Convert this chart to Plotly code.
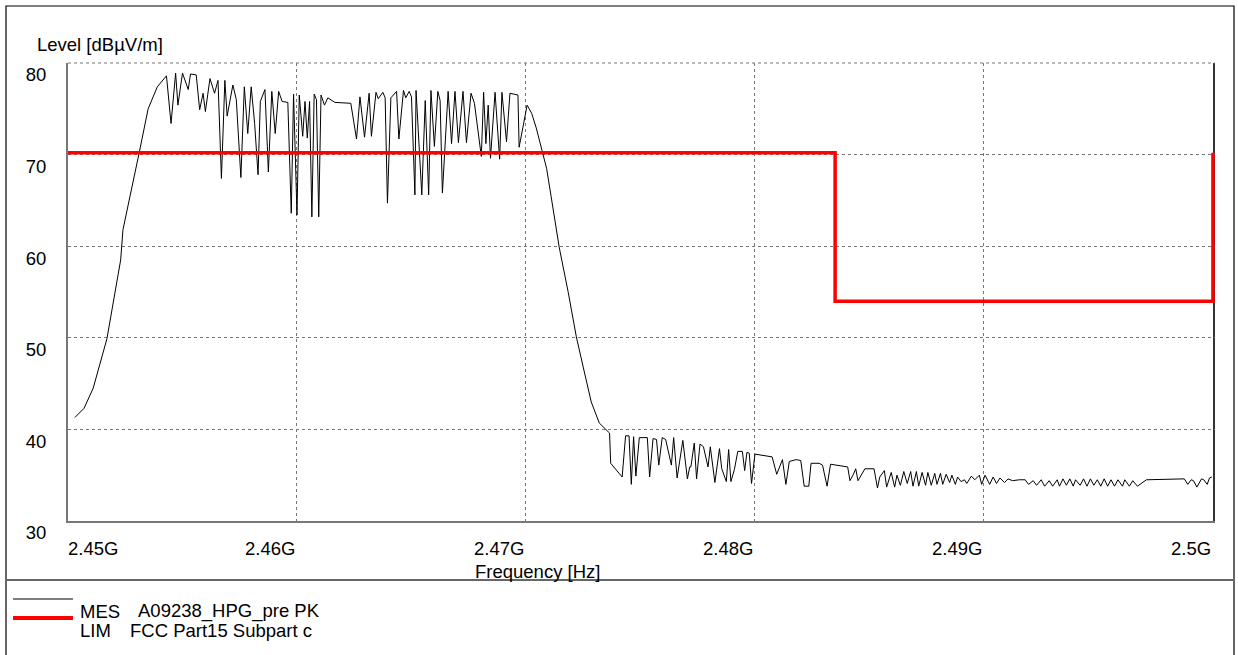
import plotly.graph_objects as go

# ---------------- data ----------------
freq_mhz = [
    2450.3, 2450.7, 2451.1, 2451.5, 2451.7, 2452.3, 2452.4, 2453.1, 2453.5, 2453.9,
    2454.3, 2454.5, 2454.7, 2454.8, 2455.0, 2455.25, 2455.35, 2455.6, 2455.75, 2455.9,
    2456.0, 2456.2, 2456.4, 2456.55, 2456.7, 2456.85, 2456.95, 2457.2, 2457.35, 2457.55,
    2457.7, 2457.85, 2458.0, 2458.15, 2458.3, 2458.4, 2458.6, 2458.75, 2458.9, 2459.05,
    2459.2, 2459.35, 2459.6, 2459.75, 2459.85, 2460.0, 2460.1, 2460.25, 2460.35, 2460.45,
    2460.55, 2460.65, 2460.75, 2460.85, 2460.95, 2461.05, 2461.2, 2461.35, 2461.65, 2462.35,
    2462.6, 2462.75, 2462.95, 2463.15, 2463.25, 2463.45, 2463.55, 2463.75, 2463.85, 2463.95,
    2464.1, 2464.35, 2464.45, 2464.65, 2464.75, 2464.9, 2465.0, 2465.15, 2465.2, 2465.45,
    2465.6, 2465.75, 2465.85, 2466.0, 2466.15, 2466.25, 2466.35, 2466.6, 2466.75, 2466.9,
    2467.05, 2467.25, 2467.4, 2467.6, 2467.75, 2468.05, 2468.15, 2468.25, 2468.35, 2468.45,
    2468.65, 2468.85, 2468.95, 2469.15, 2469.3, 2469.65, 2469.7, 2470.05, 2470.25, 2470.45,
    2470.75, 2470.9, 2471.1, 2471.45, 2471.85, 2472.2, 2472.5, 2472.85, 2473.2, 2473.55,
    2473.65, 2473.7, 2474.2, 2474.35, 2474.5, 2474.6, 2474.7, 2474.8, 2474.95, 2475.3,
    2475.4, 2475.55, 2475.7, 2475.8, 2475.95, 2476.1, 2476.35, 2476.45, 2476.6, 2476.85,
    2477.05, 2477.15, 2477.2, 2477.35, 2477.45, 2477.6, 2477.75, 2477.95, 2478.05, 2478.25,
    2478.45, 2478.55, 2478.75, 2478.85, 2478.95, 2479.1, 2479.25, 2479.45, 2479.55, 2479.65,
    2479.75, 2479.85, 2480.0, 2480.75, 2480.95, 2481.2, 2481.35, 2481.5, 2481.8, 2482.0,
    2482.15, 2482.35, 2482.45, 2482.8, 2482.95, 2483.15, 2483.3, 2484.05, 2484.15, 2484.3,
    2484.4, 2484.5, 2484.8, 2485.2, 2485.35, 2485.45, 2485.65, 2485.75, 2485.95, 2486.1,
    2486.2, 2486.35, 2486.5, 2486.65, 2486.8, 2486.9, 2487.05, 2487.15, 2487.3, 2487.45,
    2487.55, 2487.7, 2487.85, 2487.95, 2488.1, 2488.2, 2488.35, 2488.5, 2488.6, 2488.75,
    2488.85, 2489.0, 2489.15, 2489.25, 2489.45, 2489.6, 2489.8, 2489.9, 2490.05, 2490.25,
    2490.4, 2490.55, 2490.7, 2490.9, 2491.05, 2491.25, 2491.55, 2491.8, 2491.95, 2492.15,
    2492.3, 2492.5, 2492.65, 2492.85, 2493.0, 2493.2, 2493.3, 2493.45, 2493.6, 2493.75,
    2493.9, 2494.0, 2494.2, 2494.35, 2494.5, 2494.65, 2494.8, 2494.95, 2495.1, 2495.25,
    2495.4, 2495.55, 2495.7, 2495.85, 2496.05, 2496.15, 2496.35, 2496.5, 2496.7, 2497.1,
    2498.75, 2498.9, 2499.05, 2499.15, 2499.3, 2499.5, 2499.6, 2499.75, 2499.85, 2499.95,
]
level_dbuv = [
    41.3, 42.3, 44.5, 48.1, 49.9, 58.5, 61.8, 70.1, 75.0, 77.4,
    78.6, 73.4, 78.9, 75.4, 78.9, 77.1, 78.8, 78.7, 74.9, 76.7,
    74.7, 78.3, 76.7, 78.1, 67.4, 78.1, 74.2, 77.6, 76.0, 67.5,
    77.4, 72.3, 77.4, 73.4, 67.8, 75.8, 77.1, 68.1, 76.9, 72.3,
    76.9, 75.8, 75.7, 63.6, 76.6, 63.4, 76.5, 72.0, 75.8, 71.8,
    75.8, 63.2, 76.6, 76.0, 63.2, 76.5, 75.4, 76.2, 75.7, 75.6,
    71.7, 76.3, 71.9, 76.7, 72.0, 76.8, 76.1, 76.8, 76.2, 64.7,
    76.2, 76.9, 71.7, 77.0, 76.2, 76.9, 76.3, 65.6, 77.0, 65.6,
    75.9, 65.6, 77.0, 70.9, 76.9, 75.9, 65.8, 76.9, 71.2, 76.9,
    71.3, 76.9, 71.3, 76.7, 75.6, 69.8, 76.8, 71.2, 75.4, 69.6,
    76.8, 69.5, 76.8, 71.4, 76.7, 76.5, 70.8, 75.4, 74.5, 72.9,
    70.1, 68.5, 65.4, 59.9, 54.9, 50.1, 46.8, 43.0, 40.7, 39.9,
    39.6, 36.3, 34.8, 39.3, 39.3, 34.0, 39.2, 34.9, 39.1, 39.1,
    34.8, 39.0, 38.9, 36.1, 39.1, 38.9, 36.1, 39.1, 34.7, 38.8,
    34.6, 35.9, 35.9, 38.5, 34.6, 38.4, 38.1, 35.9, 38.1, 34.2,
    37.9, 35.7, 34.3, 37.8, 34.3, 35.6, 37.6, 37.6, 35.5, 37.5,
    37.4, 34.1, 37.3, 37.0, 35.1, 36.7, 34.0, 36.5, 36.7, 36.6,
    33.8, 33.8, 36.3, 36.3, 36.1, 33.8, 36.2, 35.9, 34.4, 35.1,
    35.7, 34.4, 35.7, 35.7, 33.6, 34.8, 35.5, 33.7, 35.3, 33.7,
    35.0, 33.9, 35.4, 34.1, 35.4, 33.8, 35.4, 33.8, 35.3, 33.9,
    35.3, 33.9, 35.2, 34.0, 35.2, 34.0, 35.1, 34.2, 35.0, 34.0,
    34.8, 34.3, 34.5, 34.1, 34.9, 34.5, 35.0, 34.0, 35.0, 34.0,
    34.8, 34.1, 34.7, 34.2, 34.6, 34.4, 34.5, 34.5, 34.0, 34.4,
    33.9, 34.5, 33.8, 34.4, 33.8, 34.5, 33.8, 34.6, 33.9, 34.6,
    33.8, 34.5, 33.9, 34.6, 33.8, 34.6, 33.9, 34.5, 33.8, 34.6,
    33.8, 34.5, 33.8, 34.5, 33.8, 34.5, 33.8, 34.4, 33.8, 34.5,
    34.6, 34.0, 34.5, 34.4, 33.7, 34.6, 34.5, 34.0, 34.7, 34.8,
]
limit_freq_mhz = [2450.0, 2483.5, 2483.5, 2500.0, 2500.0]
limit_dbuv = [70.2, 70.2, 54.0, 54.0, 70.2]

x_tick_vals = [2450, 2460, 2470, 2480, 2490, 2500]
x_tick_text = ["2.45G", "2.46G", "2.47G", "2.48G", "2.49G", "2.5G"]
y_tick_vals = [30, 40, 50, 60, 70, 80]
y_tick_text = ["30", "40", "50", "60", "70", "80"]

legend_names = ["MES", "LIM"]
legend_desc = ["A09238_HPG_pre PK", "FCC Part15 Subpart c"]

y_title = "Level [dBµV/m]"
x_title = "Frequency [Hz]"

# ---------------- figure ----------------
FONT = "Liberation Sans, Arial, sans-serif"
FS = 18.5

fig = go.Figure()
fig.add_trace(go.Scatter(x=freq_mhz, y=level_dbuv, mode="lines",
                         line=dict(color="black", width=1), name=legend_names[0],
                         showlegend=False, hoverinfo="x+y"))
fig.add_trace(go.Scatter(x=limit_freq_mhz, y=limit_dbuv, mode="lines",
                         line=dict(color="#ff0000", width=3.5), name=legend_names[1],
                         showlegend=False))

annotations = []
for i, (v, t) in enumerate(zip(x_tick_vals, x_tick_text)):
    annotations.append(dict(x=v, xref="x", y=0, yref="paper", text=t, showarrow=False,
                            xanchor="left" if i == 0 else "right", yanchor="middle",
                            yshift=-27, xshift=-2 if i == 0 else 0,
                            font=dict(family=FONT, size=FS, color="black")))
annotations.append(dict(x=0, xref="paper", y=1, yref="paper", text=y_title, showarrow=False,
                        xanchor="left", yanchor="middle", xshift=-33, yshift=19,
                        font=dict(family=FONT, size=FS, color="black")))
annotations.append(dict(x=2470.5, xref="x", y=0, yref="paper", text=x_title, showarrow=False,
                        xanchor="center", yanchor="middle", yshift=-50,
                        font=dict(family=FONT, size=FS, color="black")))
# legend texts
leg_y = [-90, -109]
for i in range(2):
    annotations.append(dict(x=0, xref="paper", y=0, yref="paper", text=legend_names[i],
                            showarrow=False, xanchor="left", yanchor="middle",
                            xshift=10, yshift=leg_y[i],
                            font=dict(family=FONT, size=FS, color="black")))
annotations.append(dict(x=0, xref="paper", y=0, yref="paper", text=legend_desc[0],
                        showarrow=False, xanchor="left", yanchor="middle",
                        xshift=68, yshift=leg_y[0],
                        font=dict(family=FONT, size=FS, color="black")))
annotations.append(dict(x=0, xref="paper", y=0, yref="paper", text=legend_desc[1],
                        showarrow=False, xanchor="left", yanchor="middle",
                        xshift=60, yshift=leg_y[1],
                        font=dict(family=FONT, size=FS, color="black")))

shapes = [
    # outer frame
    dict(type="rect", xref="paper", yref="paper", xsizemode="pixel", ysizemode="pixel",
         xanchor=0, yanchor=0, x0=-62, x1=1166, y0=-150, y1=515,
         line=dict(color="black", width=1.2), fillcolor="rgba(0,0,0,0)", layer="below"),
    # separator between plot and legend
    dict(type="line", xref="paper", yref="paper", xsizemode="pixel", ysizemode="pixel",
         xanchor=0, yanchor=0, x0=-62, x1=1166, y0=-59, y1=-59,
         line=dict(color="#666666", width=2)),
    # right edge of plot
    dict(type="line", xref="paper", yref="paper", xsizemode="pixel",
         xanchor=1, x0=-1, x1=-1, y0=0, y1=1,
         line=dict(color="#333333", width=2), layer="below"),
    # top dotted edge
    dict(type="line", xref="paper", yref="paper", x0=0, x1=1, y0=1, y1=1,
         line=dict(color="#777777", width=1, dash="dot"), layer="below"),
    # legend samples
    dict(type="line", xref="paper", yref="paper", xsizemode="pixel", ysizemode="pixel",
         xanchor=0, yanchor=0, x0=-55, x1=5, y0=-78, y1=-78,
         line=dict(color="#555555", width=1.5)),
    dict(type="line", xref="paper", yref="paper", xsizemode="pixel", ysizemode="pixel",
         xanchor=0, yanchor=0, x0=-55, x1=5, y0=-97, y1=-97,
         line=dict(color="#ff0000", width=4)),
]

fig.update_layout(
    width=1238, height=655,
    margin=dict(l=68, r=23, t=63, b=134),
    paper_bgcolor="white", plot_bgcolor="white",
    font=dict(family=FONT, size=FS, color="black"),
    showlegend=False,
    annotations=annotations,
    shapes=shapes,
    xaxis=dict(range=[2450, 2500.09], tickvals=x_tick_vals[:-1], showticklabels=False,
               showgrid=True, gridcolor="#777777", griddash="dot", gridwidth=1,
               showline=True, linecolor="#777777", linewidth=2, ticks="",
               zeroline=False, fixedrange=True),
    yaxis=dict(range=[30, 80], tickvals=y_tick_vals, ticktext=y_tick_text,
               showgrid=True, gridcolor="#777777", griddash="dot", gridwidth=1,
               showline=True, linecolor="#777777", linewidth=2, ticks="",
               ticklabelshift=12, ticklabelstandoff=16,
               tickfont=dict(family=FONT, size=FS, color="black"),
               zeroline=False, fixedrange=True),
)

fig.write_html("out.html", config={"displayModeBar": False},
               post_script="document.body.style.margin='0';")
